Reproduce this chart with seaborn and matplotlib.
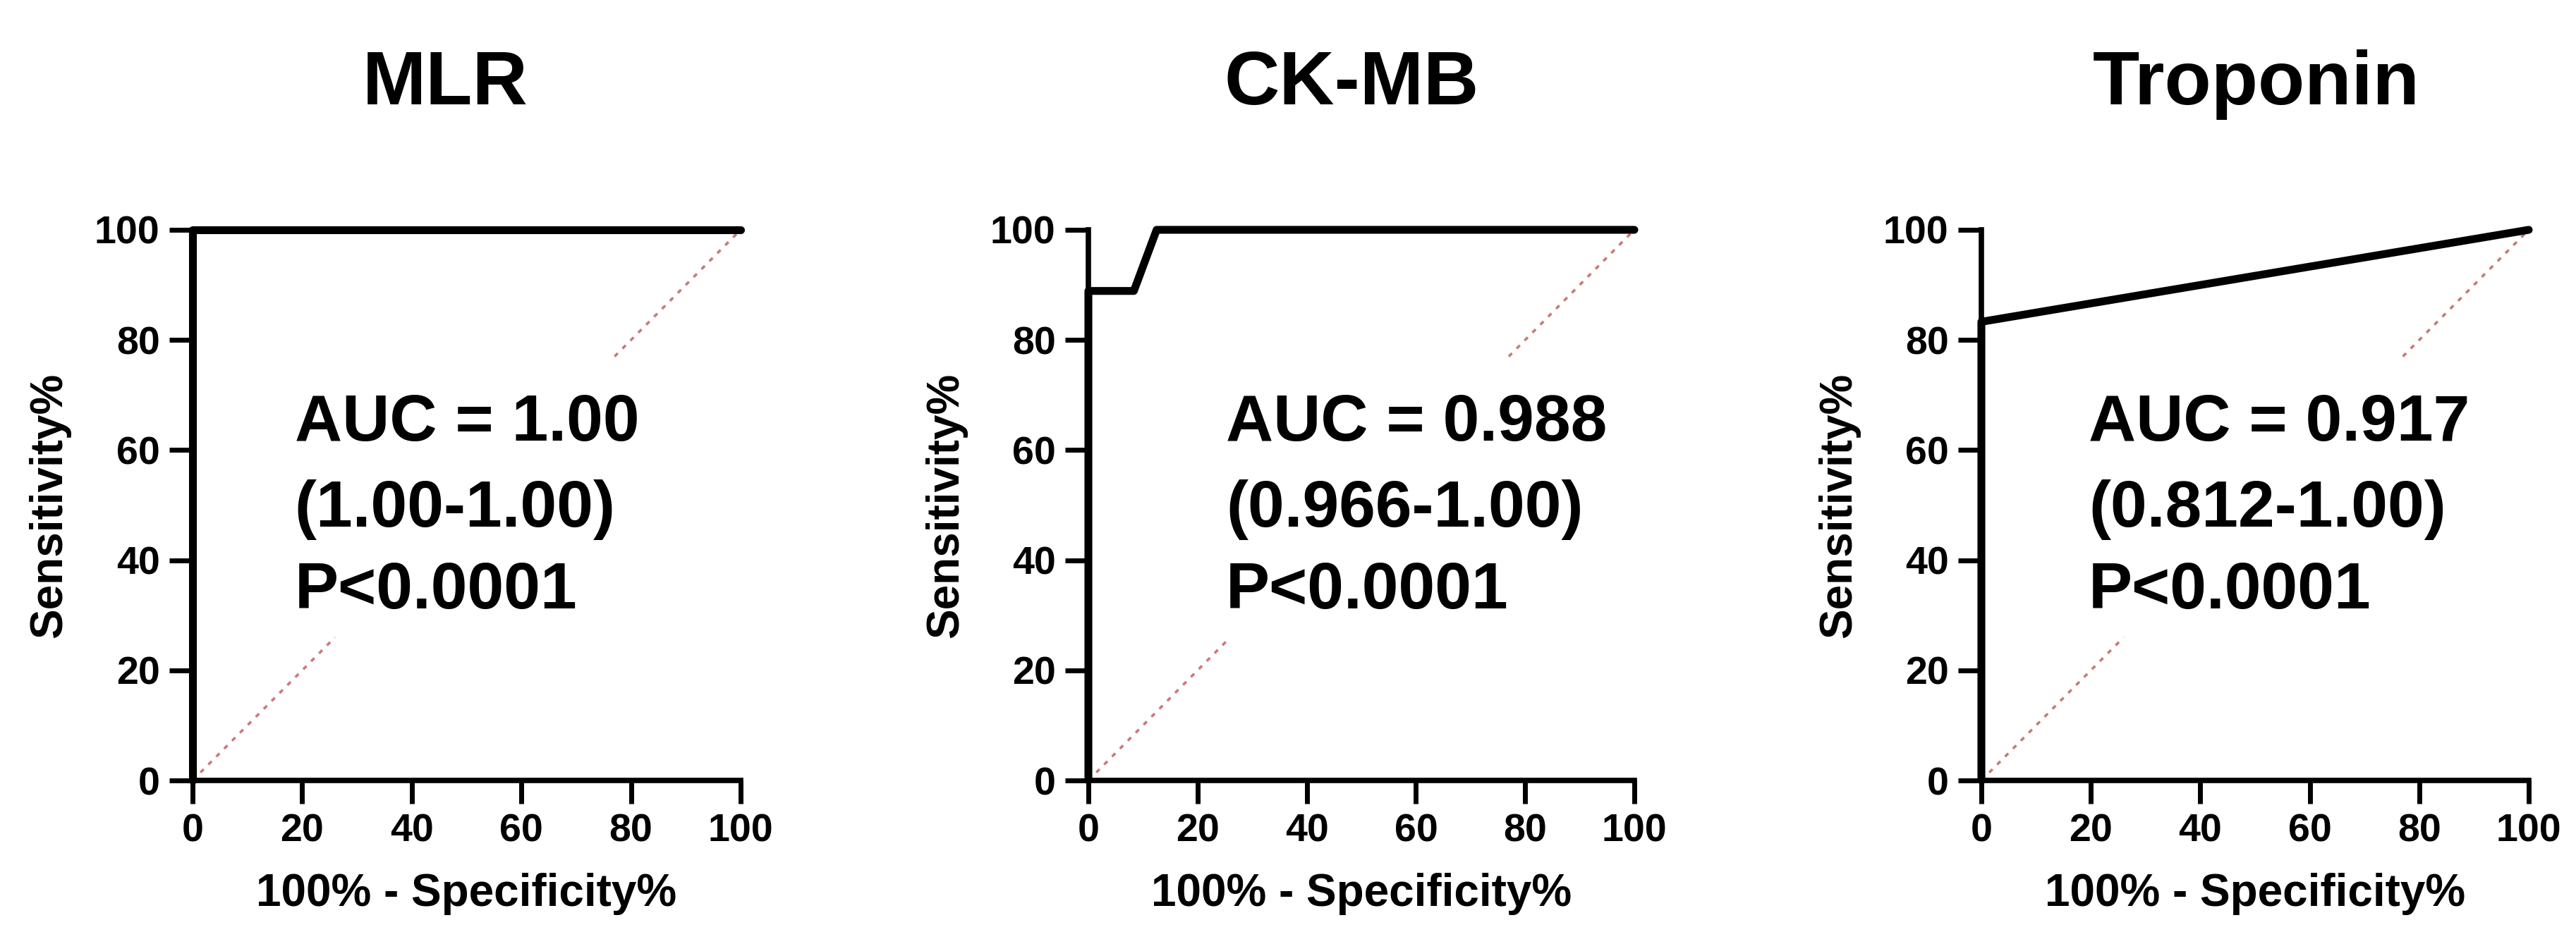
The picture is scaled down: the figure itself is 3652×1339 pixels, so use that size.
import numpy as np
import pandas as pd
import matplotlib
matplotlib.use("Agg")
import matplotlib.pyplot as plt
import seaborn as sns

# ---------------- data ----------------
panel_titles = ["MLR", "CK-MB", "Troponin"]

mlr_fpr = [0, 0, 100]
mlr_tpr = [0, 100, 100]

ckmb_fpr = [0, 0, 8.33, 12.5, 100]
ckmb_tpr = [0, 88.9, 88.9, 100, 100]

trop_fpr = [0, 0, 100]
trop_tpr = [0, 83.3, 100]

# visible parts of the chance diagonal (the middle is hidden behind the text)
diag_lower = [0, 26]
diag_upper = [77, 100]

auc_text = ["AUC = 1.00", "AUC = 0.988", "AUC = 0.917"]
ci_text = ["(1.00-1.00)", "(0.966-1.00)", "(0.812-1.00)"]
p_text = ["P<0.0001", "P<0.0001", "P<0.0001"]

tick_values = [0, 20, 40, 60, 80, 100]
x_label = "100% - Specificity%"
y_label = "Sensitivity%"

# ---------------- style ----------------
sns.set_theme(style="ticks")
plt.rcParams["font.family"] = ["Liberation Sans", "DejaVu Sans"]
plt.rcParams["font.weight"] = "bold"
plt.rcParams["text.color"] = "black"
plt.rcParams["axes.labelcolor"] = "black"
plt.rcParams["xtick.color"] = "black"
plt.rcParams["ytick.color"] = "black"

W, H = 3652, 1339
fig = plt.figure(figsize=(W / 100, H / 100), dpi=100)

# axes layout in pixels: left, right (x=0 / x=100), bottom (y=0), top (y=100)
ax_px = [(273, 1050), (1543, 2317), (2809, 3585)]
y0_px, y1_px = 1107, 326
title_cx = [631, 1916, 3199]
title_base = 148
text_x = [18.6, 25.2, 19.6]
line_y = [61.7, 46.1, 31.2]

curves = [(mlr_fpr, mlr_tpr), (ckmb_fpr, ckmb_tpr), (trop_fpr, trop_tpr)]

for i in range(3):
    l, r = ax_px[i]
    ax = fig.add_axes([l / W, (H - y0_px) / H, (r - l) / W, (y0_px - y1_px) / H])
    fx, fy = curves[i]
    df = pd.DataFrame({"fpr": fx, "tpr": fy})
    for seg in (diag_lower, diag_upper):
        dd = pd.DataFrame({"x": seg, "y": seg})
        sns.lineplot(data=dd, x="x", y="y", ax=ax, color="#c97a7a", lw=2.6,
                     linestyle=(0, (1.8, 2.6)), zorder=1, sort=False,
                     estimator=None)
    sns.lineplot(data=df, x="fpr", y="tpr", ax=ax, color="black", lw=8,
                 zorder=5, sort=False, estimator=None)
    for ln in ax.lines:
        ln.set_clip_on(False)
    ax.set_xlim(0, 100)
    ax.set_ylim(0, 100)
    ax.set_xticks(tick_values)
    ax.set_yticks(tick_values)
    ax.tick_params(axis="both", width=5, length=24, pad=9.4, labelsize=40,
                   color="black", labelcolor="black")
    for lab in ax.get_xticklabels() + ax.get_yticklabels():
        lab.set_fontweight("bold")
    for s in ["top", "right"]:
        ax.spines[s].set_visible(False)
    for s in ["left", "bottom"]:
        ax.spines[s].set_linewidth(5.5)
        ax.spines[s].set_color("black")
        ax.spines[s].set_zorder(4)
    ax.set_xlabel(x_label, fontsize=46, fontweight="bold", color="black")
    ax.set_ylabel(y_label, fontsize=46, fontweight="bold", color="black")
    ax.xaxis.set_label_coords(0.5, -0.168)
    ax.yaxis.set_label_coords(-0.222, 0.5)
    ax.set_facecolor("white")

    ax.text(text_x[i], line_y[0], auc_text[i], fontsize=67, fontweight="bold",
            color="black", va="baseline", ha="left", zorder=6)
    ax.text(text_x[i], line_y[1], ci_text[i], fontsize=67, fontweight="bold",
            color="black", va="baseline", ha="left", zorder=6)
    ax.text(text_x[i], line_y[2], p_text[i], fontsize=67, fontweight="bold",
            color="black", va="baseline", ha="left", zorder=6)

    fig.text(title_cx[i] / W, (H - title_base) / H, panel_titles[i],
             fontsize=78, fontweight="bold", color="black",
             ha="center", va="baseline")

fig.savefig("out.png", dpi=100, facecolor="white")
